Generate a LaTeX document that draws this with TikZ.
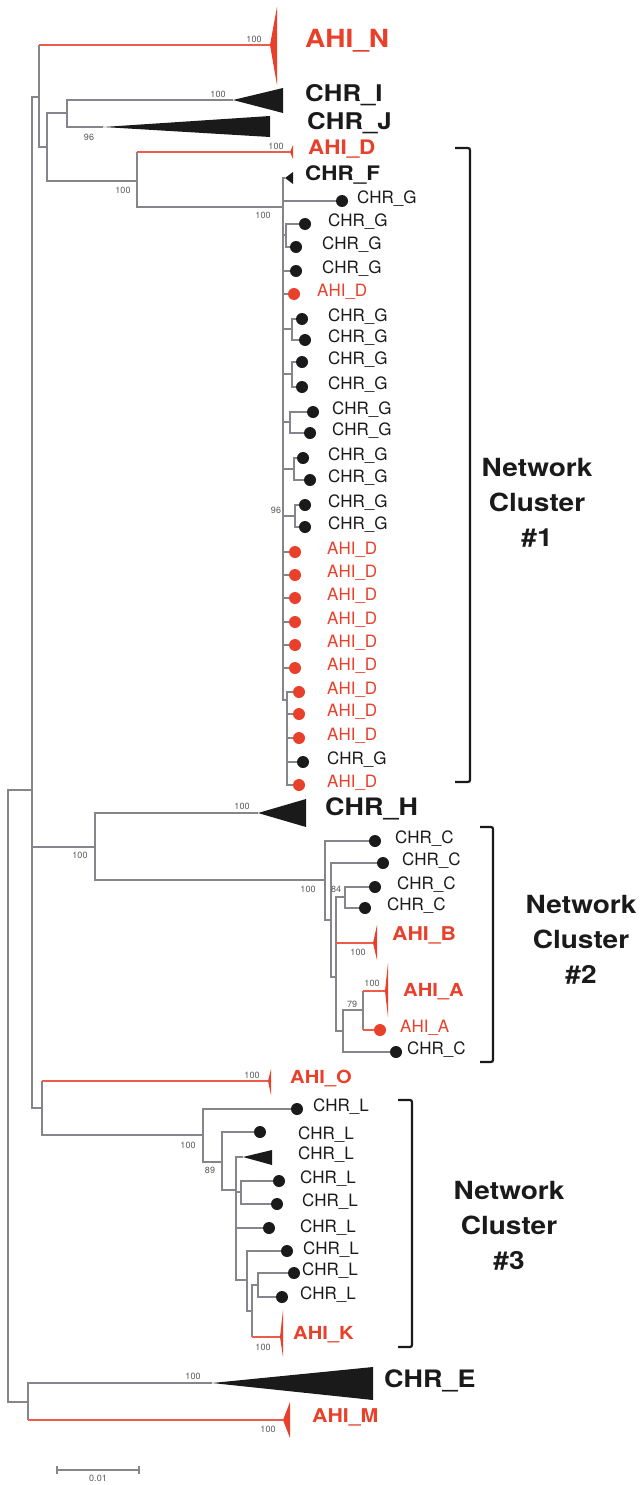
\documentclass[tikz,border=0pt]{standalone}
\usepackage{fontspec}
\setmainfont{TeX Gyre Heros}
\newfontfamily\cladefont[FakeStretch=1.12]{TeX Gyre Heros}
\usepackage{tikz}
\usetikzlibrary{positioning}
\definecolor{ahired}{HTML}{E8402A}
\definecolor{branchgray}{HTML}{85858B}
\definecolor{chrblack}{HTML}{1A1A1A}
\newcommand{\cladesize}[1]{\cladefont\bfseries\fontsize{#1}{#1}\selectfont}

\begin{document}
\begin{tikzpicture}[x=1pt, y=-1pt]
    \tikzstyle{branch}=[draw=branchgray, line width=1.3pt]
    \tikzstyle{ahibranch}=[draw=ahired!85!white, line width=1.2pt]
    \tikzstyle{chrdot}=[circle, fill=chrblack, inner sep=0pt, minimum size=12pt]
    \tikzstyle{ahidot}=[chrdot, fill=ahired]
    \tikzstyle{leaf}=[anchor=mid west, inner sep=0pt, text=chrblack,
                      font=\fontsize{17}{17}\selectfont]
    \tikzstyle{ahileaf}=[leaf, text=ahired]
    \tikzstyle{clade}=[anchor=mid west, inner sep=0pt, text=chrblack]
    \tikzstyle{ahiclade}=[clade, text=ahired]
    \tikzstyle{boot}=[inner sep=0pt, text=black!65, font=\fontsize{9}{9}\selectfont]
    \tikzstyle{bracket}=[draw=chrblack, line width=2.2pt, rounded corners=2pt]
    \tikzstyle{cluster}=[align=center, text=chrblack,
                         font=\cladefont\bfseries\fontsize{25}{35}\selectfont]

    \useasboundingbox (0,0) rectangle (640,1485);

    % backbone
    \coordinate (root)  at (8,1096);
    \coordinate (spine) at (32,790);
    \coordinate (nN)    at (39,97);
    \coordinate (nB)    at (47,147);
    \coordinate (nIJ)   at (67,113);
    \coordinate (nD)    at (137,181);
    \coordinate (cl1)   at (283,207);
    \coordinate (nH)    at (95,847);
    \coordinate (cl2)   at (325,880);
    \coordinate (nO)    at (42,1108);
    \coordinate (cl3)   at (203,1135);
    \coordinate (nE)    at (28,1402);

    \coordinate (tN) at (270,45);
    \coordinate (tI) at (233,100);
    \coordinate (tJ) at (103,127);
    \coordinate (tD) at (290,152);
    \coordinate (tF) at (285,178);
    \coordinate (tH) at (258,813);
    \coordinate (tB) at (373,943);
    \coordinate (tA) at (385,991);
    \coordinate (tO) at (268,1081);
    \coordinate (tL) at (243,1157);
    \coordinate (tK) at (280,1337);
    \coordinate (tE) at (212,1383);
    \coordinate (tM) at (283,1420);

    \draw[branch] (root) |- (spine);
    \draw[branch] (root) |- (nE);
    \draw[branch] (spine) |- (nN);
    \draw[branch] (spine) |- (nH);
    \draw[branch] (spine) |- (nO);
    \draw[branch] (nN) -- (nN |- tN);
    \draw[ahibranch] (nN |- tN) -- (tN);
    \draw[branch] (nN) |- (nB);
    \draw[branch] (nB) |- (nIJ);
    \draw[branch] (nB) |- (nD);
    \draw[branch] (nIJ) |- (tI);
    \draw[branch] (nIJ) |- (tJ);
    \draw[branch] (nD) -- (nD |- tD);
    \draw[ahibranch] (nD |- tD) -- (tD);
    \draw[branch] (nD) |- (cl1);
    \draw[branch] (nH) |- (tH);
    \draw[branch] (nH) |- (cl2);
    \draw[branch] (nO) -- (nO |- tO);
    \draw[ahibranch] (nO |- tO) -- (tO);
    \draw[branch] (nO) |- (cl3);
    \draw[branch] (nE) |- (tE);
    \draw[branch] (nE) -- (nE |- tM);
    \draw[ahibranch] (nE |- tM) -- (tM);

    % collapsed clades
    \fill[ahired] (tN) -- ++(7,-38) -- ++(0,78) -- cycle;
    \fill[chrblack] (tI) -- ++(50,-12) -- ++(0,25) -- cycle;
    \fill[chrblack] (tJ) -- ++(167,-11) -- ++(0,21) -- cycle;
    \fill[ahired] (tD) -- ++(3,-7) -- ++(0,14) -- cycle;
    \fill[chrblack] (tF) -- ++(8,-6) -- ++(0,12) -- cycle;
    \fill[chrblack] (tH) -- ++(48,-14) -- ++(0,28) -- cycle;
    \fill[ahired] (tB) -- ++(4,-18) -- ++(0,35) -- cycle;
    \fill[ahired] (tA) -- ++(3,-28) -- ++(0,54) -- cycle;
    \fill[ahired] (tO) -- ++(3,-12) -- ++(0,26) -- cycle;
    \fill[chrblack] (tL) -- ++(29,-7) -- ++(0,15) -- cycle;
    \fill[ahired] (tK) -- ++(3,-27) -- ++(0,47) -- cycle;
    \fill[chrblack] (tE) -- ++(161,-16) -- ++(0,33) -- cycle;
    \fill[ahired] (tM) -- ++(7,-18) -- ++(0,36) -- cycle;

    \node[ahiclade, font=\cladesize{25}] (lN) at (305,45)   {AHI\_N};
    \node[clade, font=\cladesize{23}]    (lI) at (305,99)   {CHR\_I};
    \node[clade, font=\cladesize{23}]    (lJ) at (307,127)  {CHR\_J};
    \node[ahiclade, font=\cladesize{20}] (lD) at (308,152)  {AHI\_D};
    \node[clade, font=\cladesize{20}]    (lF) at (305,178)  {CHR\_F};
    \node[clade, font=\cladesize{24}]    (lH) at (325,813)  {CHR\_H};
    \node[ahiclade, font=\cladesize{19}] (lB) at (392,938)  {AHI\_B};
    \node[ahiclade, font=\cladesize{18}] (lA) at (403,994)  {AHI\_A};
    \node[ahiclade, font=\cladesize{18}] (lO) at (290,1081) {AHI\_O};
    \node[leaf]                          (lL) at (298,1157) {CHR\_L};
    \node[ahiclade, font=\cladesize{18}] (lK) at (293,1337) {AHI\_K};
    \node[clade, font=\cladesize{24}]    (lE) at (384,1385) {CHR\_E};
    \node[ahiclade, font=\cladesize{19}] (lM) at (312,1420) {AHI\_M};

    % network cluster 1
    \coordinate (s1) at (286,235);
    \coordinate (s2) at (292,329);
    \coordinate (s3) at (292,374);
    \coordinate (s4) at (290,422);
    \coordinate (s5) at (294,469);
    \coordinate (s6) at (295,516);
    \coordinate (s7) at (287,700);
    \node[chrdot] (g1)  at (342,201) {};
    \node[chrdot] (g2)  at (305,224) {};
    \node[chrdot] (g3)  at (296,247) {};
    \node[chrdot] (g4)  at (296,271) {};
    \node[ahidot] (d1)  at (294,294) {};
    \node[chrdot] (g5)  at (302,319) {};
    \node[chrdot] (g6)  at (305,340) {};
    \node[chrdot] (g7)  at (302,362) {};
    \node[chrdot] (g8)  at (302,387) {};
    \node[chrdot] (g9)  at (313,412) {};
    \node[chrdot] (g10) at (310,433) {};
    \node[chrdot] (g11) at (303,458) {};
    \node[chrdot] (g12) at (310,480) {};
    \node[chrdot] (g13) at (305,505) {};
    \node[chrdot] (g14) at (305,527) {};
    \node[ahidot] (d2)  at (295,552) {};
    \node[ahidot] (d3)  at (295,575) {};
    \node[ahidot] (d4)  at (295,598) {};
    \node[ahidot] (d5)  at (295,622) {};
    \node[ahidot] (d6)  at (295,645) {};
    \node[ahidot] (d7)  at (295,668) {};
    \node[ahidot] (d8)  at (299,692) {};
    \node[ahidot] (d9)  at (299,714) {};
    \node[ahidot] (d10) at (299,738) {};
    \node[chrdot] (g15) at (303,762) {};
    \node[ahidot] (d11) at (299,785) {};

    \draw[branch] (cl1) |- (tF);
    \draw[branch] (cl1) |- (g1);
    \draw[branch] (cl1) |- (s1);
    \draw[branch] (s1) |- (g2);
    \draw[branch] (s1) |- (g3);
    \draw[branch] (cl1) |- (g4);
    \draw[branch] (cl1) |- (d1);
    \draw[branch] (cl1) |- (s2);
    \draw[branch] (s2) |- (g5);
    \draw[branch] (s2) |- (g6);
    \draw[branch] (cl1) |- (s3);
    \draw[branch] (s3) |- (g7);
    \draw[branch] (s3) |- (g8);
    \draw[branch] (cl1) |- (s4);
    \draw[branch] (s4) |- (g9);
    \draw[branch] (s4) |- (g10);
    \draw[branch] (cl1) |- (s5);
    \draw[branch] (s5) |- (g11);
    \draw[branch] (s5) |- (g12);
    \draw[branch] (cl1) |- (s6);
    \draw[branch] (s6) |- (g13);
    \draw[branch] (s6) |- (g14);
    \draw[branch] (cl1) |- (d2);
    \draw[branch] (cl1) |- (d3);
    \draw[branch] (cl1) |- (d4);
    \draw[branch] (cl1) |- (d5);
    \draw[branch] (cl1) |- (d6);
    \draw[branch] (cl1) |- (d7);
    \draw[branch] (cl1) |- (s7);
    \draw[branch] (s7) |- (d8);
    \draw[branch] (s7) |- (d9);
    \draw[branch] (s7) |- (d10);
    \draw[branch] (s7) |- (g15);
    \draw[branch] (s7) |- (d11);

    \node[leaf]    (lg1)  at (357,201) {CHR\_G};
    \node[leaf]    (lg2)  at (328,224) {CHR\_G};
    \node[leaf]    (lg3)  at (322,247) {CHR\_G};
    \node[leaf]    (lg4)  at (322,271) {CHR\_G};
    \node[ahileaf] (ld1)  at (317,294) {AHI\_D};
    \node[leaf]    (lg5)  at (328,319) {CHR\_G};
    \node[leaf]    (lg6)  at (328,340) {CHR\_G};
    \node[leaf]    (lg7)  at (328,362) {CHR\_G};
    \node[leaf]    (lg8)  at (328,387) {CHR\_G};
    \node[leaf]    (lg9)  at (332,412) {CHR\_G};
    \node[leaf]    (lg10) at (332,433) {CHR\_G};
    \node[leaf]    (lg11) at (328,458) {CHR\_G};
    \node[leaf]    (lg12) at (328,480) {CHR\_G};
    \node[leaf]    (lg13) at (328,505) {CHR\_G};
    \node[leaf]    (lg14) at (328,527) {CHR\_G};
    \node[ahileaf] (ld2)  at (327,552) {AHI\_D};
    \node[ahileaf] (ld3)  at (327,575) {AHI\_D};
    \node[ahileaf] (ld4)  at (327,598) {AHI\_D};
    \node[ahileaf] (ld5)  at (327,622) {AHI\_D};
    \node[ahileaf] (ld6)  at (327,645) {AHI\_D};
    \node[ahileaf] (ld7)  at (327,668) {AHI\_D};
    \node[ahileaf] (ld8)  at (327,692) {AHI\_D};
    \node[ahileaf] (ld9)  at (327,714) {AHI\_D};
    \node[ahileaf] (ld10) at (327,738) {AHI\_D};
    \node[leaf]    (lg15) at (327,762) {CHR\_G};
    \node[ahileaf] (ld11) at (327,785) {AHI\_D};

    % network cluster 2
    \coordinate (x2) at (331,920);
    \coordinate (w2) at (336,977);
    \coordinate (z2) at (345,897);
    \coordinate (v2) at (343,1031);
    \coordinate (u2) at (363,1010);
    \node[chrdot] (c1) at (375,841) {};
    \node[chrdot] (c2) at (383,863) {};
    \node[chrdot] (c3) at (375,887) {};
    \node[chrdot] (c4) at (365,908) {};
    \node[ahidot] (a2) at (380,1030) {};
    \node[chrdot] (c5) at (396,1052) {};

    \draw[branch] (cl2) |- (c1);
    \draw[branch] (cl2) |- (x2);
    \draw[branch] (x2) |- (c2);
    \draw[branch] (x2) |- (w2);
    \draw[branch] (w2) |- (z2);
    \draw[branch] (z2) |- (c3);
    \draw[branch] (z2) |- (c4);
    \draw[branch] (w2) -- (w2 |- tB);
    \draw[ahibranch] (w2 |- tB) -- (tB);
    \draw[branch] (w2) |- (v2);
    \draw[branch] (v2) |- (u2);
    \draw[branch] (v2) |- (c5);
    \draw[branch] (u2) -- (u2 |- tA);
    \draw[ahibranch] (u2 |- tA) -- (tA);
    \draw[branch] (u2) -- (u2 |- a2);
    \draw[ahibranch] (u2 |- a2) -- (a2);

    \node[leaf]    (lc1) at (395,841)  {CHR\_C};
    \node[leaf]    (lc2) at (402,863)  {CHR\_C};
    \node[leaf]    (lc3) at (397,887)  {CHR\_C};
    \node[leaf]    (lc4) at (387,908)  {CHR\_C};
    \node[ahileaf] (la2) at (400,1030) {AHI\_A};
    \node[leaf]    (lc5) at (407,1052) {CHR\_C};

    % network cluster 3
    \coordinate (q3)  at (222,1162);
    \coordinate (r3)  at (236,1190);
    \coordinate (r31) at (241,1192);
    \coordinate (s31) at (247,1280);
    \coordinate (s32) at (252,1311);
    \coordinate (t3)  at (258,1285);
    \node[chrdot] (l1) at (297,1109) {};
    \node[chrdot] (l2) at (260,1132) {};
    \node[chrdot] (l3) at (279,1181) {};
    \node[chrdot] (l4) at (277,1204) {};
    \node[chrdot] (l5) at (269,1228) {};
    \node[chrdot] (l6) at (287,1251) {};
    \node[chrdot] (l7) at (294,1273) {};
    \node[chrdot] (l8) at (282,1297) {};

    \draw[branch] (cl3) |- (l1);
    \draw[branch] (cl3) |- (q3);
    \draw[branch] (q3) |- (l2);
    \draw[branch] (q3) |- (r3);
    \draw[branch] (r3) |- (tL);
    \draw[branch] (r3) |- (r31);
    \draw[branch] (r31) |- (l3);
    \draw[branch] (r31) |- (l4);
    \draw[branch] (r3) |- (l5);
    \draw[branch] (r3) |- (s31);
    \draw[branch] (s31) |- (l6);
    \draw[branch] (s31) |- (s32);
    \draw[branch] (s32) |- (t3);
    \draw[branch] (t3) |- (l7);
    \draw[branch] (t3) |- (l8);
    \draw[branch] (s32) -- (s32 |- tK);
    \draw[ahibranch] (s32 |- tK) -- (tK);

    \node[leaf] (ll1) at (313,1109) {CHR\_L};
    \node[leaf] (ll2) at (298,1137) {CHR\_L};
    \node[leaf] (ll3) at (300,1181) {CHR\_L};
    \node[leaf] (ll4) at (302,1204) {CHR\_L};
    \node[leaf] (ll5) at (300,1230) {CHR\_L};
    \node[leaf] (ll6) at (303,1252) {CHR\_L};
    \node[leaf] (ll7) at (302,1273) {CHR\_L};
    \node[leaf] (ll8) at (300,1297) {CHR\_L};

    % bootstrap values
    \node[boot] at (254,39)   {100};
    \node[boot] at (218,94)   {100};
    \node[boot] at (89,137)   {96};
    \node[boot] at (276,146)  {100};
    \node[boot] at (123,190)  {100};
    \node[boot] at (263,215)  {100};
    \node[boot] at (276,510)  {96};
    \node[boot] at (242,806)  {100};
    \node[boot] at (80,855)   {100};
    \node[boot] at (308,889)  {100};
    \node[boot] at (336,889)  {84};
    \node[boot] at (358,952)  {100};
    \node[boot] at (372,983)  {100};
    \node[boot] at (352,1004) {79};
    \node[boot] at (252,1075) {100};
    \node[boot] at (188,1145) {100};
    \node[boot] at (210,1170) {89};
    \node[boot] at (263,1347) {100};
    \node[boot] at (193,1376) {100};
    \node[boot] at (268,1429) {100};

    % cluster brackets
    \draw[bracket] (455,148) -- (470,148) -- (470,782) -- (455,782);
    \draw[bracket] (480,827) -- (493,827) -- (493,1062) -- (480,1062);
    \draw[bracket] (398,1100) -- (412,1100) -- (412,1347) -- (398,1347);
    \node[cluster] (net1) at (537,503)  {Network\\Cluster\\\#1};
    \node[cluster] (net2) at (581,940)  {Network\\Cluster\\\#2};
    \node[cluster] (net3) at (509,1226) {Network\\Cluster\\\#3};

    % scale bar
    \coordinate (sb1) at (57,1470);
    \coordinate (sb2) at (139,1470);
    \coordinate (sbm) at (98,1470);
    \draw[branch] (sb1) -- (sb2);
    \draw[branch] (sb1) ++(0,-4) -- ++(0,8);
    \draw[branch] (sb2) ++(0,-4) -- ++(0,8);
    \node[boot, below=5pt of sbm] (sbl) {0.01};
\end{tikzpicture}
\end{document}
